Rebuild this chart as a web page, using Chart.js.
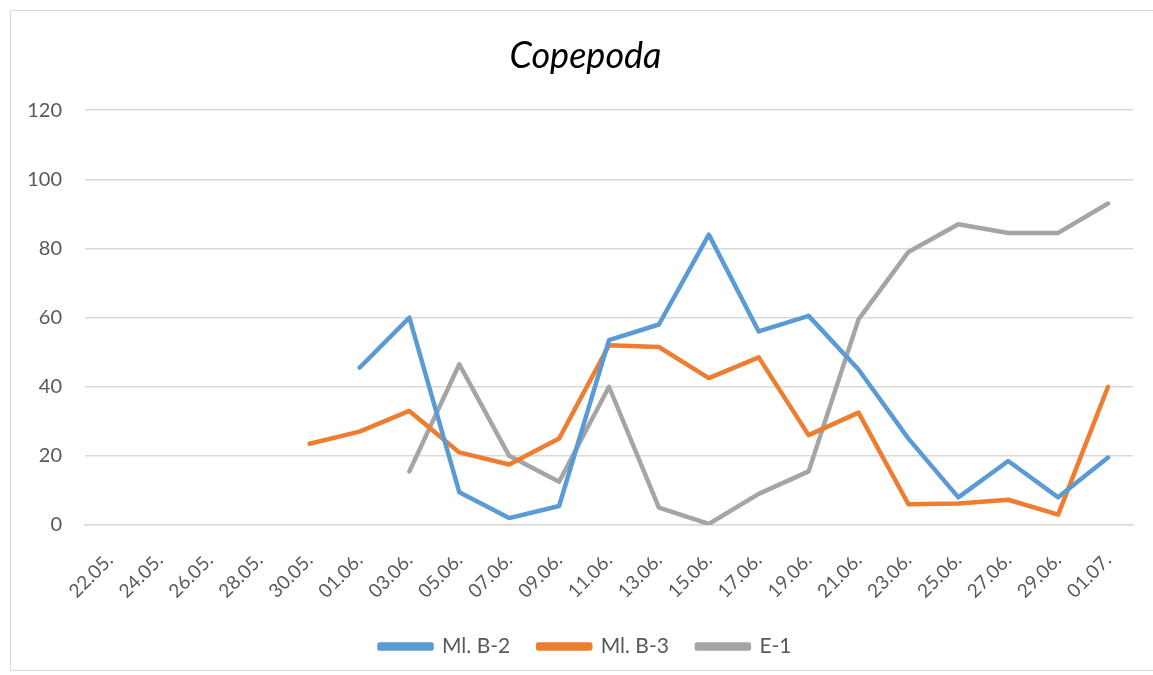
<!DOCTYPE html>
<html>
<head>
<meta charset="utf-8">
<script src="https://cdn.jsdelivr.net/npm/chart.js@4"></script>
<style>
  html, body { margin: 0; padding: 0; background: #fff; }
  #wrap { position: relative; width: 1153px; height: 675px; }
</style>
</head>
<body>
<div id="wrap"><canvas id="chart1"></canvas></div>
<script>
const labels = ["22.05.", "24.05.", "26.05.", "28.05.", "30.05.", "01.06.", "03.06.", "05.06.", "07.06.",
  "09.06.", "11.06.", "13.06.", "15.06.", "17.06.", "19.06.", "21.06.", "23.06.", "25.06.", "27.06.",
  "29.06.", "01.07."];

const mlB2 = [null, null, null, null, null, 45.5, 60, 9.5, 2, 5.5, 53.5, 58, 84, 56, 60.5, 45, 25, 8, 18.5, 8, 19.5];
const mlB3 = [null, null, null, null, 23.5, 27, 33, 21, 17.5, 25, 52, 51.5, 42.5, 48.5, 26, 32.5, 6, 6.2, 7.3, 3, 40];
const e1 = [null, null, null, null, null, null, 15.5, 46.5, 20, 12.5, 40, 5, 0.3, 9, 15.5, 59.5, 79, 87, 84.5, 84.5, 93];

const seriesNames = ["Ml. B-2", "Ml. B-3", "E-1"];
const colors = ["#5B9BD5", "#ED7D31", "#A5A5A5"];

// outer frame like the office chart box
const frame = {
  id: "frame",
  beforeDraw(chart) {
    const ctx = chart.ctx;
    ctx.save();
    ctx.fillStyle = "#fff";
    ctx.fillRect(0, 0, chart.width, chart.height);
    ctx.strokeStyle = "#d9d9d9";
    ctx.lineWidth = 1;
    ctx.strokeRect(10.5, 10.5, chart.width - 10, chart.height - 15);
    ctx.restore();
  }
};

// title and legend sit centred over the plot, not over the whole canvas
const centreOnPlot = {
  id: "centreOnPlot",
  afterLayout(chart) {
    const shift = 30;
    if (chart.titleBlock) chart.titleBlock.left += shift;
    if (chart.legend) chart.legend.left += shift;
  }
};

const data1 = {
  labels: labels,
  datasets: [mlB2, mlB3, e1].map((vals, i) => ({
    label: seriesNames[i],
    data: vals,
    borderColor: colors[i],
    backgroundColor: colors[i],
    borderWidth: 4.5,
    pointRadius: 0,
    pointHoverRadius: 0,
    tension: 0,
    spanGaps: false,
    borderCapStyle: "round",
    borderJoinStyle: "round",
  })),
};

const config1 = {
  type: "line",
  data: data1,
  plugins: [frame, centreOnPlot],
  options: {
    responsive: true,
    maintainAspectRatio: false,
    animation: false,
    layout: { padding: { left: 8, right: 20, top: 22, bottom: 8 } },
    plugins: {
      title: {
        display: true,
        text: "Copepoda",
        color: "#000",
        font: { family: "Lato", size: 36, style: "italic", weight: "normal" },
        padding: { top: 13, bottom: 32 },
      },
      legend: {
        position: "bottom",
        labels: {
          color: "#595959",
          font: { family: "Lato", size: 21 },
          boxWidth: 52,
          boxHeight: 4,
          padding: 28,
        },
      },
      tooltip: { enabled: false },
    },
    scales: {
      x: {
        offset: true,
        afterFit: (scale) => { scale.height = 83; },
        grid: { display: false, drawTicks: false },
        border: { color: "#d9d9d9", width: 1.5 },
        ticks: {
          color: "#595959",
          font: { family: "Lato", size: 19 },
          maxRotation: 45,
          minRotation: 45,
          autoSkip: false,
          padding: 24,
        },
      },
      y: {
        min: 0,
        max: 120,
        afterFit: (scale) => { scale.width = 77; },
        grid: { color: "#d9d9d9", lineWidth: 1.5, drawTicks: false },
        border: { display: false },
        ticks: {
          stepSize: 20,
          color: "#595959",
          font: { family: "Lato", size: 20 },
          padding: 23,
        },
      },
    },
  },
};
const chart1 = new Chart(document.getElementById("chart1"), config1);
</script>
</body>
</html>
